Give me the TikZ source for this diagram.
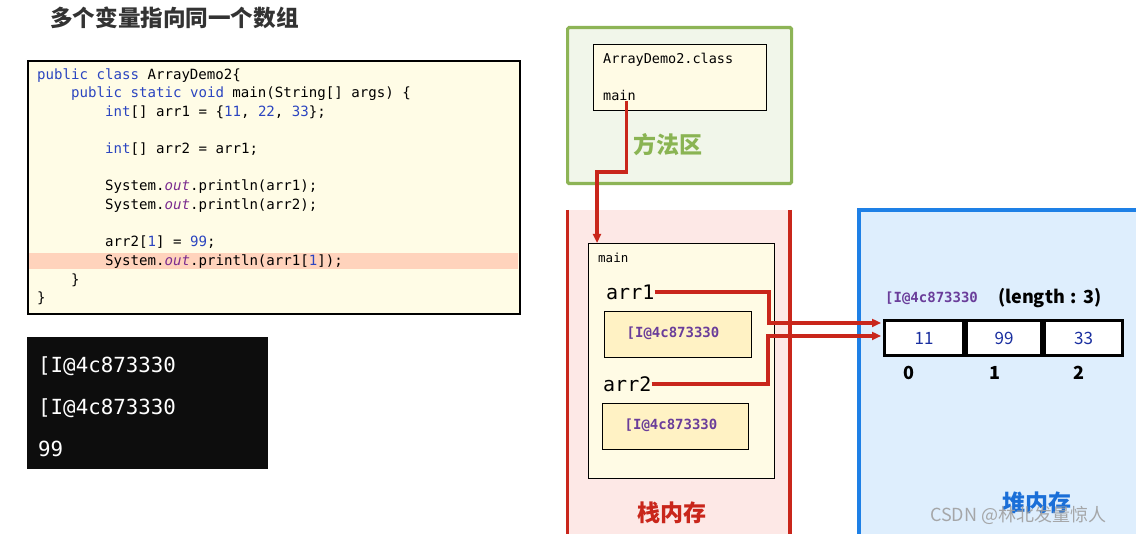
\documentclass[tikz,border=0pt]{standalone}
\usepackage{fontspec}
\setmainfont{Noto Sans CJK SC}
\setmonofont{DejaVu Sans Mono}
\usetikzlibrary{arrows.meta}
\definecolor{codebg}{HTML}{FFFCE6}
\definecolor{hl}{HTML}{FFD3BC}
\definecolor{kw}{HTML}{2B45C0}
\definecolor{outc}{HTML}{7B2C8F}
\definecolor{gborder}{HTML}{8DB456}
\definecolor{gfill}{HTML}{F1F6EA}
\definecolor{gtext}{HTML}{8AB453}
\definecolor{rline}{HTML}{C9261B}
\definecolor{pfill}{HTML}{FDE8E6}
\definecolor{cream}{HTML}{FFFBE5}
\definecolor{ybox}{HTML}{FFF2C4}
\definecolor{addr}{HTML}{6A3D9A}
\definecolor{bborder}{HTML}{1E80E6}
\definecolor{bfill}{HTML}{DEEEFD}
\definecolor{btext}{HTML}{1A6FD8}
\definecolor{numblue}{HTML}{1A2FA0}
\newcommand{\kwd}[1]{\textcolor{kw}{#1}}
\newcommand{\outw}{\textcolor{outc}{\textit{out}}}
\begin{document}
\begin{tikzpicture}[x=1pt,y=-1pt,
  code/.style={anchor=base west, inner sep=0pt, font=\fontsize{14.1}{16}\selectfont\ttfamily},
  cons/.style={anchor=base west, inner sep=0pt, text=white, font=\fontsize{20.8}{24}\selectfont\ttfamily},
  redline/.style={draw=rline, line width=3.2pt},
  redarrow/.style={redline, -{Triangle[length=9pt,width=8pt]}},
  addrtext/.style={inner sep=0pt, text=addr, font=\fontsize{14}{16}\selectfont\ttfamily\bfseries},
  cell/.style={draw=black, line width=3pt, fill=white, minimum height=35pt, inner sep=0pt, text=numblue, font=\fontsize{17}{20}\selectfont},
  idx/.style={inner sep=0pt, font=\fontsize{18}{20}\selectfont\bfseries},
  area/.style={inner sep=0pt, font=\fontsize{23}{26}\selectfont\bfseries}
]
\useasboundingbox (0,0) rectangle (1136,534);
\fill[white] (0,0) rectangle (1136,534);

% title
\node[anchor=west, inner sep=0pt, text=black!80, font=\fontsize{22.6}{26}\selectfont\bfseries] (title) at (50,18) {多个变量指向同一个数组};

% code box
\node[draw=black, line width=1.6pt, fill=codebg, minimum width=492pt, minimum height=253pt, inner sep=0pt, anchor=north west] (codebox) at (27,60) {};
\fill[hl] (28.5,253) rectangle (517.5,269);
\node[code] (l1) at (37,80) {\kwd{public} \kwd{class} ArrayDemo2\{};
\node[code] (l2) at (71,98) {\kwd{public} \kwd{static} \kwd{void} main(String[] args) \{};
\node[code] (l3) at (105,117) {\kwd{int}[] arr1 = \{\kwd{11}, \kwd{22}, \kwd{33}\};};
\node[code] (l4) at (105,154) {\kwd{int}[] arr2 = arr1;};
\node[code] (l5) at (105,191) {System.\outw.println(arr1);};
\node[code] (l6) at (105,210) {System.\outw.println(arr2);};
\node[code] (l7) at (105,247) {arr2[\kwd{1}] = \kwd{99};};
\node[code] (l8) at (105,266) {System.\outw.println(arr1[\kwd{1}]);};
\node[code] (l9) at (71,285) {\}};
\node[code] (l10) at (37,303) {\}};

% console
\node[fill=black!95, minimum width=241pt, minimum height=132pt, inner sep=0pt, anchor=north west] (console) at (27,337) {};
\node[cons] (c1) at (38,373) {[I@4c873330};
\node[cons] (c2) at (38,415) {[I@4c873330};
\node[cons] (c3) at (38,457) {99};

% method area
\node[draw=gborder, line width=3.2pt, fill=gfill, rounded corners=1.5pt, minimum width=224pt, minimum height=156pt, inner sep=0pt, anchor=north west] (method) at (566,26) {};
\node[draw=black, line width=1.3pt, fill=cream, minimum width=173pt, minimum height=66pt, inner sep=0pt, anchor=north west] (cls) at (593,44) {};
\node[code, font=\fontsize{13.5}{16}\selectfont\ttfamily] (clsname) at (603,64) {ArrayDemo2.class};
\node[code, font=\fontsize{13.5}{16}\selectfont\ttfamily] (mm) at (603,101) {main};
\node[area, text=gtext] (mlabel) at (668,145) {方法区};

% stack
\fill[pfill] (567,210) rectangle (790,534);
\draw[redline] (567.5,210) -- (567.5,534);
\draw[redline] (790,210) -- (790,534);
\node[draw=black, line width=1.3pt, fill=cream, minimum width=186pt, minimum height=235pt, inner sep=0pt, anchor=north west] (frame) at (588,243) {};
\node[code, font=\fontsize{12.5}{14}\selectfont\ttfamily] (fmain) at (598,263) {main};
\node[inner sep=0pt, anchor=west, font=\fontsize{20}{24}\selectfont\ttfamily] (arr1) at (606,292) {arr1};
\node[draw=black, line width=1.3pt, fill=ybox, minimum width=147pt, minimum height=46pt, inner sep=0pt, anchor=north west] (box1) at (604,311) {};
\node[addrtext] (a1) at (673,333) {[I@4c873330};
\node[inner sep=0pt, anchor=west, font=\fontsize{20}{24}\selectfont\ttfamily] (arr2) at (603,384) {arr2};
\node[draw=black, line width=1.3pt, fill=ybox, minimum width=146pt, minimum height=46pt, inner sep=0pt, anchor=north west] (box2) at (602,403) {};
\node[addrtext] (a2) at (671,425) {[I@4c873330};
\node[area, text=rline] (slabel) at (672,513) {栈内存};

% heap
\fill[bfill] (859,210) rectangle (1136,534);
\draw[draw=bborder, line width=3.2pt] (859,534) -- (859,210) -- (1136,210);
\node[addrtext, anchor=west] (haddr) at (885,298) {[I@4c873330};
\node[inner sep=0pt, anchor=west, font=\fontsize{18}{20}\selectfont\bfseries] (hlen) at (998,298) {(length\hspace{6pt}:\hspace{6pt}3)};
\node[cell, minimum width=79pt, anchor=north west] (c0) at (883,319) {11};
\node[cell, minimum width=75pt, anchor=west] (c1a) at (c0.east) {99};
\node[cell, minimum width=78pt, anchor=west] (c2a) at (c1a.east) {33};
\node[idx] (i0) at (909,373) {0};
\node[idx] (i1) at (995,373) {1};
\node[idx] (i2) at (1079,373) {2};
\node[area, text=btext] (hlabel) at (1037,503) {堆内存};
\node[inner sep=0pt, anchor=west, text=gray!75, opacity=0.9, font=\fontsize{18}{20}\selectfont] (wm) at (930,515) {CSDN @林北发量惊人};

% connectors
\coordinate (jog) at (597,172);
\draw[redarrow] ([xshift=7pt]mm.south) |- (jog) -- (jog |- frame.north);
\coordinate (k1) at (769,0);
\coordinate (k2) at (768,0);
\coordinate (t1) at ([xshift=-2pt,yshift=15pt]c0.west);
\coordinate (t2) at ([xshift=-2pt,yshift=2pt]c0.west);
\draw[redarrow] (arr1.east) -| (k1 |- t1) -- (t1);
\draw[redarrow] (arr2.east) -| (k2 |- t2) -- (t2);
\end{tikzpicture}
\end{document}
